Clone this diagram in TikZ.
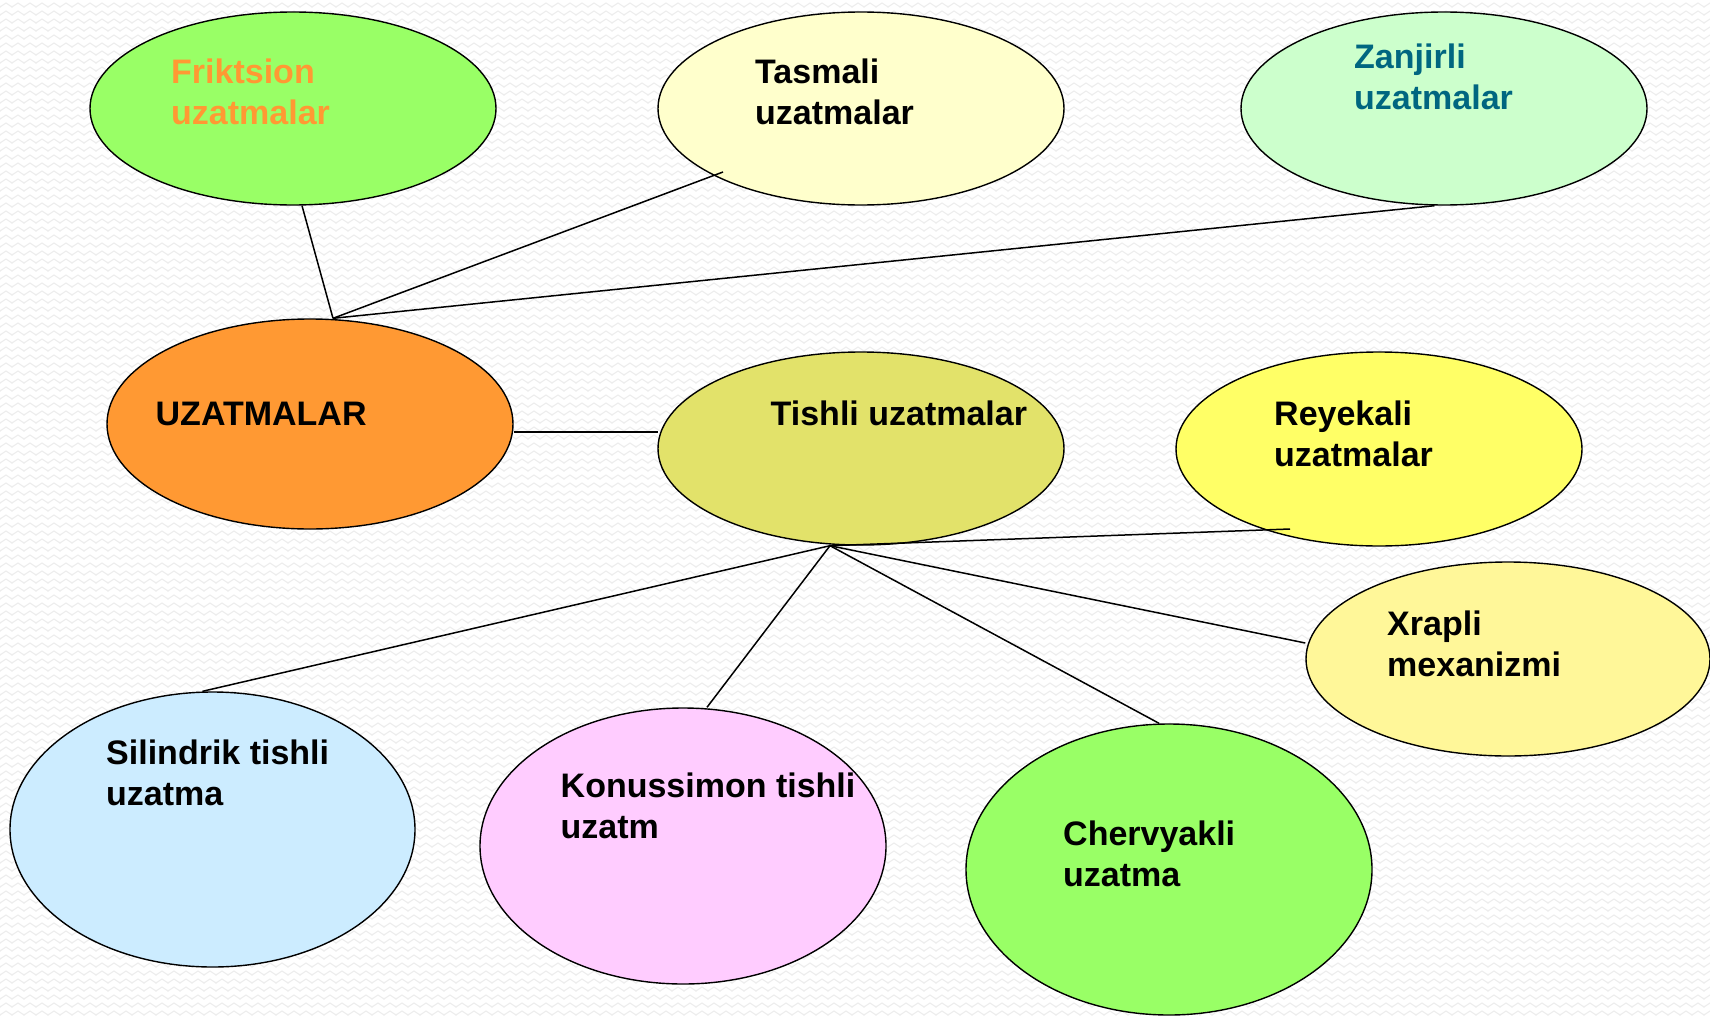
\documentclass[tikz,border=0pt]{standalone}
\usepackage{fontspec}
\setmainfont{Liberation Sans}
\usetikzlibrary{shapes.geometric,calc,patterns}
\definecolor{cFrFill}{HTML}{99FF66}
\definecolor{cFrText}{HTML}{FF9933}
\definecolor{cTaFill}{HTML}{FFFFCC}
\definecolor{cZaFill}{HTML}{CCFFCC}
\definecolor{cZaText}{HTML}{006680}
\definecolor{cUzFill}{HTML}{FF9933}
\definecolor{cTiFill}{HTML}{E2E26A}
\definecolor{cReFill}{HTML}{FFFF66}
\definecolor{cXrFill}{HTML}{FFF799}
\definecolor{cSiFill}{HTML}{CCECFF}
\definecolor{cKoFill}{HTML}{FFCCFF}
\definecolor{cChFill}{HTML}{99FF66}
\definecolor{cWave}{HTML}{EDEDED}
\pgfdeclarepatternformonly{bgwaves}{\pgfqpoint{-1pt}{-1pt}}{\pgfqpoint{13pt}{9pt}}{\pgfqpoint{12pt}{8pt}}{%
  \pgfsetlinewidth{1pt}%
  \pgfpathmoveto{\pgfqpoint{-3pt}{4pt}}%
  \pgfpathlineto{\pgfqpoint{0pt}{2pt}}%
  \pgfpathlineto{\pgfqpoint{6pt}{6pt}}%
  \pgfpathlineto{\pgfqpoint{12pt}{2pt}}%
  \pgfpathlineto{\pgfqpoint{15pt}{4pt}}%
  \pgfusepath{stroke}}
\tikzset{
  oval/.style={ellipse, draw=black, line width=1.4pt, inner sep=0pt},
  lbl/.style={anchor=base west, inner sep=0pt, font=\fontsize{34}{41.5}\selectfont\bfseries},
  conn/.style={line width=1.5pt, draw=black}
}
\newcommand{\twoline}[2]{\begin{tabular}[t]{@{}l@{}}#1\\#2\end{tabular}}
\begin{document}
\begin{tikzpicture}[x=1pt,y=-1pt]
  % background
  \fill[white] (0,0) rectangle (1710,1017);
  \fill[pattern=bgwaves, pattern color=cWave] (0,0) rectangle (1710,1017);
  \useasboundingbox (0,0) rectangle (1710,1017);

  % ellipses
  \node[oval, fill=cFrFill, minimum width=406pt, minimum height=193pt] (fr) at (293,108.5) {};
  \node[oval, fill=cTaFill, minimum width=406pt, minimum height=193pt] (ta) at (861,108.5) {};
  \node[oval, fill=cZaFill, minimum width=406pt, minimum height=193pt] (za) at (1444,108.5) {};
  \node[oval, fill=cUzFill, minimum width=406pt, minimum height=210pt] (uz) at (310,424) {};
  \node[oval, fill=cTiFill, minimum width=406pt, minimum height=193pt] (ti) at (861,448.5) {};
  \node[oval, fill=cReFill, minimum width=406pt, minimum height=194pt] (re) at (1379,449) {};
  \node[oval, fill=cXrFill, minimum width=404pt, minimum height=194pt] (xr) at (1508,659) {};
  \node[oval, fill=cSiFill, minimum width=405pt, minimum height=275pt] (si) at (212.5,829.5) {};
  \node[oval, fill=cKoFill, minimum width=406pt, minimum height=276pt] (ko) at (683,846) {};
  \node[oval, fill=cChFill, minimum width=406pt, minimum height=291pt] (ch) at (1169,869.5) {};

  % labels
  \node[lbl, text=cFrText] (frt) at (171,83) {\twoline{Friktsion}{uzatmalar}};
  \node[lbl] (tat) at (755,83) {\twoline{Tasmali}{uzatmalar}};
  \node[lbl, text=cZaText] (zat) at (1354,68) {\twoline{Zanjirli}{uzatmalar}};
  \node[lbl] (uzt) at (155.5,425) {UZATMALAR};
  \node[lbl] (tit) at (770.5,425) {Tishli uzatmalar};
  \node[lbl] (ret) at (1274,425) {\twoline{Reyekali}{uzatmalar}};
  \node[lbl] (xrt) at (1387,635) {\twoline{Xrapli}{mexanizmi}};
  \node[lbl] (sit) at (106,764) {\twoline{Silindrik tishli}{uzatma}};
  \node[lbl] (kot) at (560.5,797) {\twoline{Konussimon tishli}{uzatm}};
  \node[lbl] (cht) at (1063,845) {\twoline{Chervyakli}{uzatma}};

  % junction points
  \coordinate (hubU) at ([xshift=23pt]uz.north);
  \coordinate (hubT) at ($(ti.south)+(-31,0)$);
  \coordinate (taEnd) at ($(ta.center)+(-138,63.5)$);
  \coordinate (reEnd) at ($(re.center)+(-89,80)$);

  % connectors
  \draw[conn] ([xshift=9pt]fr.south) -- (hubU);
  \draw[conn] (taEnd) -- (hubU);
  \draw[conn] ([xshift=-9.5pt]za.south) -- (hubU);
  \draw[conn] ([yshift=-8pt]uz.east) -- ($(ti.west)+(1,-16.5)$);
  \draw[conn] ([xshift=-10pt]si.north) -- (hubT);
  \draw[conn] ([xshift=24pt]ko.north) -- (hubT);
  \draw[conn] ([xshift=-10pt]ch.north) -- (hubT);
  \draw[conn] ([yshift=16pt]xr.west) -- (hubT);
  \draw[conn] (reEnd) -- (hubT);
\end{tikzpicture}
\end{document}
